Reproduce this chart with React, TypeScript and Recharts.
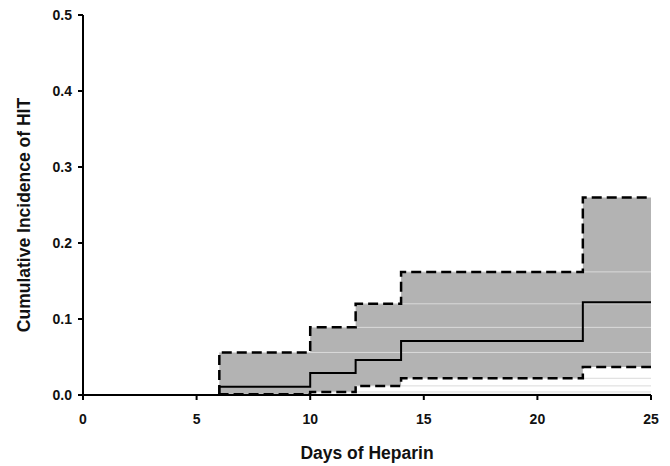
import React from 'react';
import { ComposedChart, Area, Line, XAxis, YAxis, Label } from 'recharts';

// Kaplan-Meier style cumulative incidence with 95% CI band
const estDays = [1, 6, 6, 10, 12, 14, 22, 25];
const estimate = [0, 0, 0.011, 0.029, 0.046, 0.071, 0.122, 0.122];

const ciDays = [6, 6, 10, 12, 14, 22, 25];
const upperCI = [0, 0.056, 0.089, 0.12, 0.162, 0.26, 0.26];
const lowerCI = [0, 0.001, 0.004, 0.012, 0.022, 0.037, 0.037];

const xTicks = [0, 5, 10, 15, 20, 25];
const yTicks = [0, 0.1, 0.2, 0.3, 0.4, 0.5];

const estData = estDays.map((day, i) => ({ day, value: estimate[i] }));
const ciData = ciDays.map((day, i) => ({ day, upper: upperCI[i], lower: lowerCI[i], band: [lowerCI[i], upperCI[i]] }));

// faint leftover lines: each CI step level carries on to the right edge
const lastDay = ciDays[ciDays.length - 1];
const ghostLines: { day: number; value: number }[][] = [];
for (let i = 1; i < ciDays.length - 2; i++) {
  ghostLines.push([{ day: ciDays[i], value: upperCI[i] }, { day: lastDay, value: upperCI[i] }]);
  ghostLines.push([{ day: ciDays[i], value: lowerCI[i] }, { day: lastDay, value: lowerCI[i] }]);
}

const font = '"Liberation Sans", Arial, sans-serif';
const tickStyle = { fill: '#111', fontSize: 14, fontWeight: 700, fontFamily: font };
const titleStyle = { fill: '#111', fontSize: 17.5, fontWeight: 700, fontFamily: font };

const App: React.FC = () => {
  return (
    <div style={{ position: 'absolute', left: 0, top: 0, background: '#fff' }}>
      <ComposedChart width={670} height={466} margin={{ top: 15, right: 19, left: 0, bottom: 0 }}>
        <XAxis
          type="number"
          dataKey="day"
          domain={[0, 25]}
          ticks={xTicks}
          allowDataOverflow
          height={71}
          stroke="#000"
          strokeWidth={2}
          tickSize={5}
          tickMargin={14}
          tick={tickStyle}
        >
          <Label value="Days of Heparin" position="insideBottom" offset={7} style={titleStyle} />
        </XAxis>
        <YAxis
          type="number"
          domain={[0, 0.5]}
          ticks={yTicks}
          width={83}
          stroke="#000"
          strokeWidth={2}
          tickSize={5}
          tickMargin={6}
          tick={tickStyle}
          tickFormatter={(v: number) => v.toFixed(1)}
        >
          <Label
            content={() => (
              <text
                x={24}
                y={215}
                transform="rotate(-90 24 215)"
                textAnchor="middle"
                dominantBaseline="central"
                style={titleStyle}
              >
                Cumulative Incidence of HIT
              </text>
            )}
          />
        </YAxis>
        <Area
          data={ciData}
          dataKey="band"
          type="stepAfter"
          stroke="none"
          fill="#b3b3b3"
          fillOpacity={1}
          isAnimationActive={false}
        />
        {ghostLines.map((pts, i) => (
          <Line
            key={i}
            data={pts}
            dataKey="value"
            type="linear"
            stroke="#dadada"
            strokeWidth={1}
            dot={false}
            activeDot={false}
            isAnimationActive={false}
          />
        ))}
        <Line
          data={estData}
          dataKey="value"
          type="stepAfter"
          stroke="#000"
          strokeWidth={2}
          dot={false}
          isAnimationActive={false}
        />
        <Line
          data={ciData}
          dataKey="upper"
          type="stepAfter"
          stroke="#000"
          strokeWidth={2.5}
          strokeDasharray="10 5"
          dot={false}
          isAnimationActive={false}
        />
        <Line
          data={ciData}
          dataKey="lower"
          type="stepAfter"
          stroke="#000"
          strokeWidth={2.5}
          strokeDasharray="10 5"
          dot={false}
          isAnimationActive={false}
        />
      </ComposedChart>
    </div>
  );
};

export default App;
